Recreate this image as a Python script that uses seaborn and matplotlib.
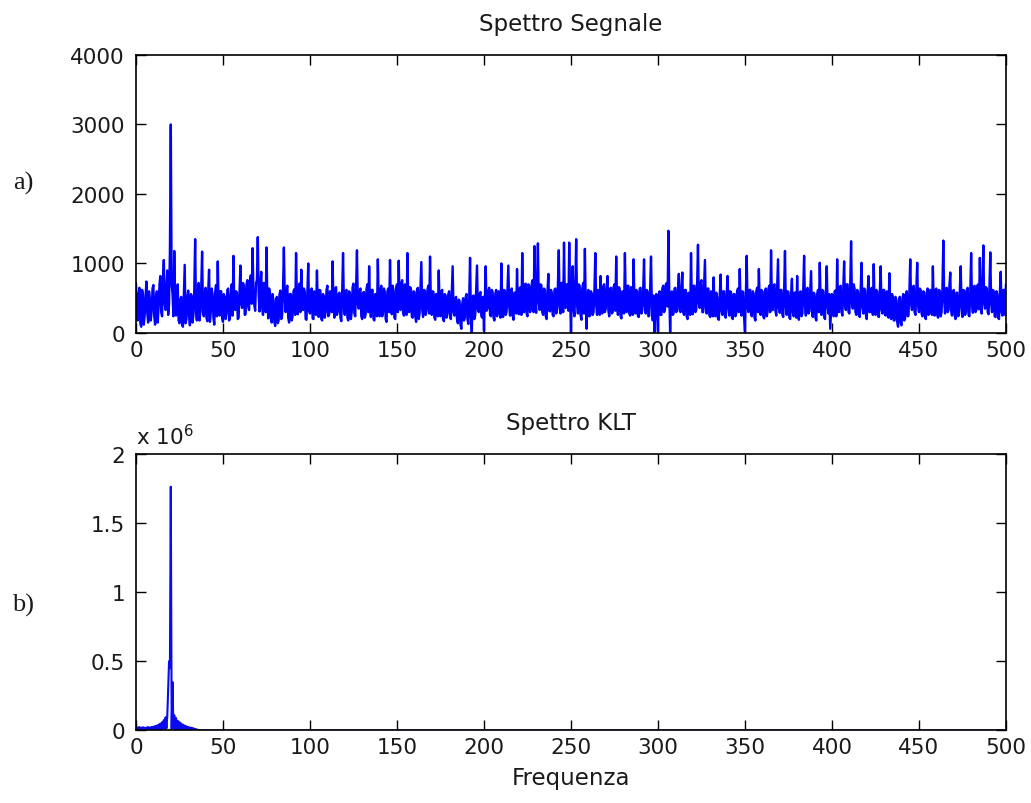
import numpy as np
import pandas as pd
import matplotlib
matplotlib.use("Agg")
import matplotlib.pyplot as plt
import seaborn as sns

# ---------------- data ----------------
titles = ["Spettro Segnale", "Spettro KLT"]
panel_labels = ["a)", "b)"]
x_label = "Frequenza"
x_ticks = [0, 50, 100, 150, 200, 250, 300, 350, 400, 450, 500]
y_ticks_a = [0, 1000, 2000, 3000, 4000]
y_ticks_b = [0, 0.5, 1, 1.5, 2]          # in units of 10^6
y_tick_labels_b = ["0", "0.5", "1", "1.5", "2"]

# Spectrum of the signal at whole frequencies (0, 1, ..., 500)
signal_at_whole = [
    720, 180, 650, 90, 560, 260, 740, 150, 480, 310, 690, 120, 600, 380, 820, 240, 1050, 330, 900, 420,
    3000, 560, 1180, 250, 700, 140, 520, 90, 980, 200, 610, 110, 540, 260, 1350, 180, 720, 300, 1170, 240,
    650, 170, 910, 300, 560, 120, 690, 1030, 250, 600, 160, 520, 290, 640, 210, 700, 1110, 330, 580, 220,
    970, 360, 680, 270, 760, 330, 830, 1220, 400, 720, 1380, 310, 880, 260, 690, 1230, 210, 580, 150, 470,
    100, 520, 180, 610, 260, 1230, 300, 680, 150, 560, 240, 630, 1150, 270, 710, 910, 330, 600, 190, 1000,
    280, 640, 200, 570, 900, 230, 610, 180, 520, 300, 680, 260, 590, 1030, 220, 660, 310, 580, 170, 1150,
    260, 620, 180, 560, 300, 710, 240, 1190, 350, 640, 200, 590, 270, 700, 960, 230, 620, 180, 550, 1060,
    240, 680, 300, 590, 160, 640, 1050, 270, 610, 200, 700, 1040, 330, 760, 250, 680, 1150, 300, 640, 220,
    590, 160, 650, 280, 1020, 230, 610, 320, 680, 1100, 260, 590, 190, 560, 900, 240, 620, 170, 540, 280,
    600, 200, 960, 250, 520, 140, 460, 60, 500, 220, 560, 130, 1080, 10, 540, 260, 970, 300, 590, 220,
    30, 960, 350, 650, 240, 590, 180, 620, 290, 560, 1000, 230, 610, 300, 970, 250, 640, 190, 580, 920,
    270, 660, 1150, 300, 710, 240, 680, 350, 760, 1250, 290, 1290, 330, 690, 260, 620, 200, 850, 310, 580,
    240, 640, 330, 1190, 280, 720, 1300, 360, 690, 1300, 10, 960, 240, 1350, 280, 680, 190, 720, 1210, 60,
    620, 250, 560, 300, 1150, 260, 600, 820, 280, 700, 350, 820, 240, 650, 300, 700, 1100, 260, 640, 210,
    590, 1150, 300, 680, 250, 620, 1060, 280, 600, 230, 650, 330, 1060, 280, 600, 250, 1100, 180, 10, 560,
    20, 600, 260, 680, 330, 720, 1470, 10, 600, 280, 650, 340, 850, 300, 870, 260, 620, 200, 560, 1150,
    270, 680, 330, 1270, 360, 760, 300, 1050, 280, 640, 230, 560, 800, 240, 520, 190, 840, 260, 600, 220,
    820, 250, 590, 200, 560, 280, 640, 920, 250, 590, 20, 1110, 300, 620, 240, 570, 180, 650, 920, 260,
    600, 210, 640, 300, 680, 1190, 330, 700, 250, 1060, 290, 620, 230, 1180, 260, 590, 200, 780, 240, 580,
    820, 190, 600, 280, 1110, 250, 650, 320, 890, 230, 560, 180, 620, 1010, 260, 600, 200, 960, 280, 60,
    560, 240, 610, 1060, 300, 680, 250, 1030, 330, 700, 280, 1320, 350, 640, 260, 590, 230, 1010, 280, 620,
    200, 820, 300, 650, 990, 260, 600, 230, 960, 280, 620, 250, 560, 860, 200, 520, 180, 480, 90, 520,
    110, 560, 200, 600, 250, 1060, 330, 680, 260, 1010, 300, 620, 240, 580, 200, 640, 280, 600, 960, 250,
    640, 220, 600, 300, 1330, 280, 650, 330, 870, 250, 620, 200, 580, 260, 960, 230, 610, 300, 650, 240,
    1150, 290, 680, 330, 700, 1080, 280, 1260, 350, 640, 270, 1160, 300, 600, 230, 560, 200, 880, 250, 620, 700,
]

# Spectrum of the signal at half frequencies (0.5, 1.5, ..., 499.5)
signal_at_half = [
    350, 560, 140, 620, 120, 530, 280, 600, 180, 640, 240, 520, 150, 700, 300, 760, 420, 640, 260, 1200,
    700, 240, 500, 620, 180, 480, 120, 560, 140, 510, 240, 560, 150, 620, 300, 560, 180, 650, 300, 560,
    220, 600, 160, 640, 220, 580, 240, 380, 600, 220, 560, 200, 620, 180, 560, 250, 420, 600, 200, 620,
    420, 720, 260, 700, 380, 760, 420, 620, 320, 760, 560, 700, 380, 720, 300, 500, 640, 220, 560, 160,
    480, 140, 560, 200, 620, 520, 640, 220, 560, 180, 600, 260, 480, 640, 300, 520, 640, 200, 600, 320,
    600, 210, 600, 260, 380, 620, 200, 560, 220, 620, 240, 600, 300, 420, 640, 260, 560, 220, 580, 380,
    600, 220, 600, 200, 660, 280, 640, 420, 600, 240, 580, 220, 640, 300, 420, 620, 200, 560, 240, 460,
    620, 240, 640, 200, 600, 300, 440, 680, 220, 640, 300, 440, 720, 300, 700, 260, 460, 660, 240, 600,
    240, 620, 200, 640, 340, 620, 260, 620, 280, 420, 600, 220, 560, 240, 380, 600, 200, 560, 220, 560,
    240, 560, 300, 500, 200, 480, 120, 420, 180, 520, 200, 480, 240, 520, 200, 620, 340, 560, 240, 520,
    520, 320, 600, 260, 620, 220, 560, 240, 600, 220, 420, 620, 260, 640, 380, 600, 240, 580, 280, 420,
    640, 260, 420, 700, 280, 700, 300, 720, 300, 460, 740, 440, 700, 300, 640, 240, 600, 320, 620, 260,
    620, 280, 700, 380, 720, 300, 460, 700, 320, 520, 520, 360, 660, 420, 700, 260, 640, 280, 420, 560,
    240, 600, 260, 640, 400, 620, 260, 420, 660, 300, 640, 320, 640, 280, 660, 320, 420, 660, 240, 600,
    280, 460, 680, 280, 660, 260, 440, 620, 240, 640, 280, 620, 380, 620, 240, 640, 400, 540, 380, 260,
    560, 260, 640, 300, 700, 380, 560, 520, 260, 640, 300, 620, 320, 640, 300, 620, 240, 580, 260, 420,
    680, 300, 700, 420, 720, 300, 700, 360, 640, 260, 600, 240, 380, 580, 200, 540, 320, 600, 240, 560,
    360, 600, 220, 560, 240, 600, 300, 400, 600, 220, 520, 380, 620, 260, 600, 220, 600, 300, 420, 620,
    240, 600, 240, 640, 300, 460, 680, 320, 640, 360, 620, 260, 600, 380, 600, 220, 560, 300, 580, 220,
    320, 580, 240, 620, 400, 620, 280, 620, 300, 580, 220, 560, 300, 440, 620, 240, 600, 380, 560, 300,
    280, 600, 240, 420, 660, 300, 640, 400, 700, 300, 680, 420, 700, 300, 620, 260, 600, 380, 640, 260,
    580, 300, 640, 260, 420, 620, 240, 600, 340, 620, 260, 600, 220, 400, 560, 180, 520, 160, 460, 140,
    500, 180, 560, 240, 600, 420, 660, 300, 640, 400, 640, 280, 600, 220, 580, 260, 620, 260, 400, 620,
    260, 620, 240, 640, 480, 640, 300, 680, 320, 600, 260, 580, 240, 600, 380, 620, 260, 620, 260, 600,
    420, 660, 300, 680, 340, 440, 680, 420, 660, 300, 640, 420, 620, 240, 600, 220, 580, 300, 620, 260,
]

# KLT spectrum (units of 10^6): steps of 0.5 from 0 to 40, flat zero afterwards
klt_freq_head = [i * 0.5 for i in range(81)]
klt_values_head = [
    0.025, 0.002, 0.022, 0.003, 0.025, 0.002, 0.020, 0.004, 0.024, 0.002,
    0.020, 0.003, 0.022, 0.002, 0.025, 0.004, 0.022, 0.003, 0.026, 0.004,
    0.028, 0.003, 0.032, 0.005, 0.036, 0.004, 0.042, 0.006, 0.050, 0.008,
    0.060, 0.010, 0.075, 0.012, 0.095, 0.015, 0.110, 0.300, 0.500, 0.450,
    1.760, 0.010, 0.350, 0.015, 0.110, 0.010, 0.090, 0.008, 0.070, 0.006,
    0.060, 0.005, 0.050, 0.004, 0.042, 0.004, 0.036, 0.003, 0.030, 0.003,
    0.026, 0.002, 0.022, 0.002, 0.020, 0.002, 0.016, 0.001, 0.012, 0.001,
    0.008, 0.001, 0.004, 0.000, 0.002, 0.000, 0.001, 0.000, 0.000, 0.000,
    0.000,
]
klt_freq_tail = [45, 500]
klt_values_tail = [0.0, 0.0]

# ---------------- tables ----------------
n_whole = len(signal_at_whole)
freq_whole = np.arange(n_whole, dtype=float)
freq_half = np.arange(len(signal_at_half), dtype=float) + 0.5
df_a = pd.DataFrame({
    "freq": np.concatenate([freq_whole, freq_half]),
    "amp": np.concatenate([signal_at_whole, signal_at_half]).astype(float),
}).sort_values("freq").reset_index(drop=True)

df_b = pd.DataFrame({
    "freq": klt_freq_head + klt_freq_tail,
    "amp": np.array(klt_values_head + klt_values_tail) * 1e6,
})

# ---------------- figure ----------------
sns.set_theme(style="white")
plt.rcParams["font.family"] = ["DejaVu Sans"]

fig = plt.figure(figsize=(10.31, 8.04), dpi=100)
fig.patch.set_facecolor("white")
ax_a = fig.add_axes([0.1319, 0.5846, 0.8438, 0.3458])
ax_b = fig.add_axes([0.1319, 0.0902, 0.8438, 0.3445])

sns.lineplot(data=df_a, x="freq", y="amp", ax=ax_a, color="#0000ff",
             linewidth=1.7, estimator=None, sort=False, antialiased=True)
sns.lineplot(data=df_b, x="freq", y="amp", ax=ax_b, color="#0a0aee",
             linewidth=1.5, estimator=None, sort=False)

fs = 15.5
txt_color = "#1a1a1a"
for ax in (ax_a, ax_b):
    ax.set_facecolor("white")
    ax.set_xlim(0, 500)
    ax.set_xticks(x_ticks)
    ax.set_xticklabels([str(t) for t in x_ticks])
    ax.set_xlabel("")
    ax.set_ylabel("")
    for sp in ax.spines.values():
        sp.set_visible(True)
        sp.set_color("black")
        sp.set_linewidth(1.2)
        sp.set_zorder(5)
    ax.tick_params(direction="in", length=7, width=1.0, color="black",
                   top=True, right=True, bottom=True, left=True,
                   labelsize=fs, labelcolor=txt_color)
    ax.tick_params(axis="y", pad=8)
    ax.tick_params(axis="x", pad=5)
    ax.grid(False)

ax_a.set_ylim(0, 4000)
ax_a.set_yticks(y_ticks_a)
ax_a.set_yticklabels([str(t) for t in y_ticks_a])

ax_b.set_ylim(0, 2e6)
ax_b.set_yticks([v * 1e6 for v in y_ticks_b])
ax_b.set_yticklabels(y_tick_labels_b)

ax_a.set_title(titles[0], fontsize=16.5, pad=18, color=txt_color)
ax_b.set_title(titles[1], fontsize=16.5, pad=18, color=txt_color)
ax_b.set_xlabel(x_label, fontsize=16.5, labelpad=6, color=txt_color)

ax_b.text(0.0, 1.035, r"x 10$^{6}$", transform=ax_b.transAxes,
          ha="left", va="baseline", fontsize=fs, color=txt_color)

fig.text(23 / 1031, 1 - 183 / 804, panel_labels[0], ha="center", va="center",
         fontsize=19, family="Liberation Serif", color=txt_color)
fig.text(23 / 1031, 1 - 605 / 804, panel_labels[1], ha="center", va="center",
         fontsize=19, family="Liberation Serif", color=txt_color)

fig.savefig("out.png", dpi=100, facecolor="white")
